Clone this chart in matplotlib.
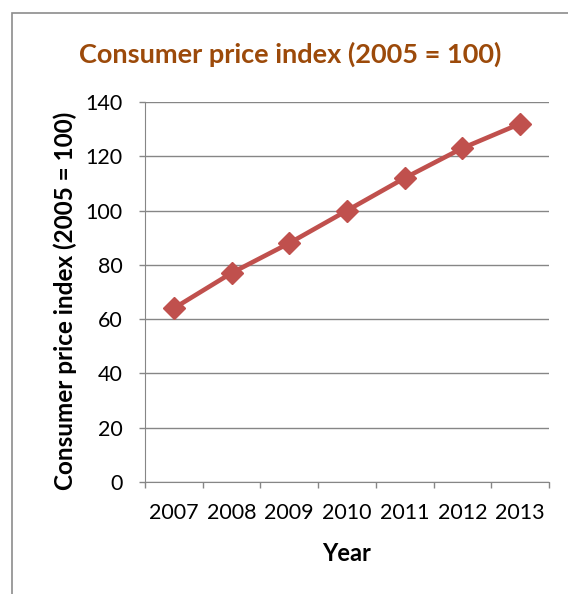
import matplotlib.pyplot as plt
from matplotlib.patches import Rectangle

years = ['2007', '2008', '2009', '2010', '2011', '2012', '2013']
cpi = [64, 77, 88, 100, 112, 123, 132]
y_ticks = [0, 20, 40, 60, 80, 100, 120, 140]

plt.rcParams['font.family'] = ['Lato', 'DejaVu Sans']

fig = plt.figure(figsize=(5.68, 5.94), dpi=100)

# chart area border (cropped on right and bottom like the source)
fig.patches.append(Rectangle((12 / 568, -0.1), 2, 1.1 - 13 / 594,
                             transform=fig.transFigure, fill=False,
                             edgecolor='#8c8c8c', linewidth=1.2))

ax = fig.add_axes([145 / 568, 1 - 482 / 594, 404 / 568, 380 / 594])

x = list(range(len(years)))
ax.plot(x, cpi, color='#c0504d', linewidth=3.3, marker='D',
        markersize=11, markeredgecolor='#c0504d', zorder=3)

ax.set_xlim(-0.5, len(years) - 0.5)
ax.set_ylim(0, 140)
ax.set_yticks(y_ticks)
ax.grid(axis='y', color='#868686', linewidth=1)
ax.set_axisbelow(True)

# category axis: tick marks between categories, labels centred
ax.set_xticks([i - 0.5 for i in range(len(years) + 1)])
ax.set_xticklabels([])
ax.set_xticks(x, minor=True)
ax.set_xticklabels(years, minor=True, fontsize=15.5)
ax.tick_params(axis='x', which='minor', length=0, pad=15)
ax.tick_params(axis='x', which='major', length=4, color='#868686', width=1)
ax.tick_params(axis='y', length=4, color='#868686', width=1, labelsize=15.5, pad=12)

for side in ['top', 'right']:
    ax.spines[side].set_visible(False)
ax.spines['left'].set_color('#868686')
ax.spines['bottom'].set_color('#868686')

ax.set_title('Consumer price index (2005 = 100)', color='#9c4a0a',
             fontsize=19.5, fontweight='bold', pad=28, x=0.36)
ax.set_xlabel('Year', fontsize=17, fontweight='bold', labelpad=14)
ax.set_ylabel('Consumer price index (2005 = 100)', fontsize=17.5,
              fontweight='bold', va='center')
ax.yaxis.set_label_coords(-0.198, 0.476)

fig.savefig('out.png', dpi=100)
